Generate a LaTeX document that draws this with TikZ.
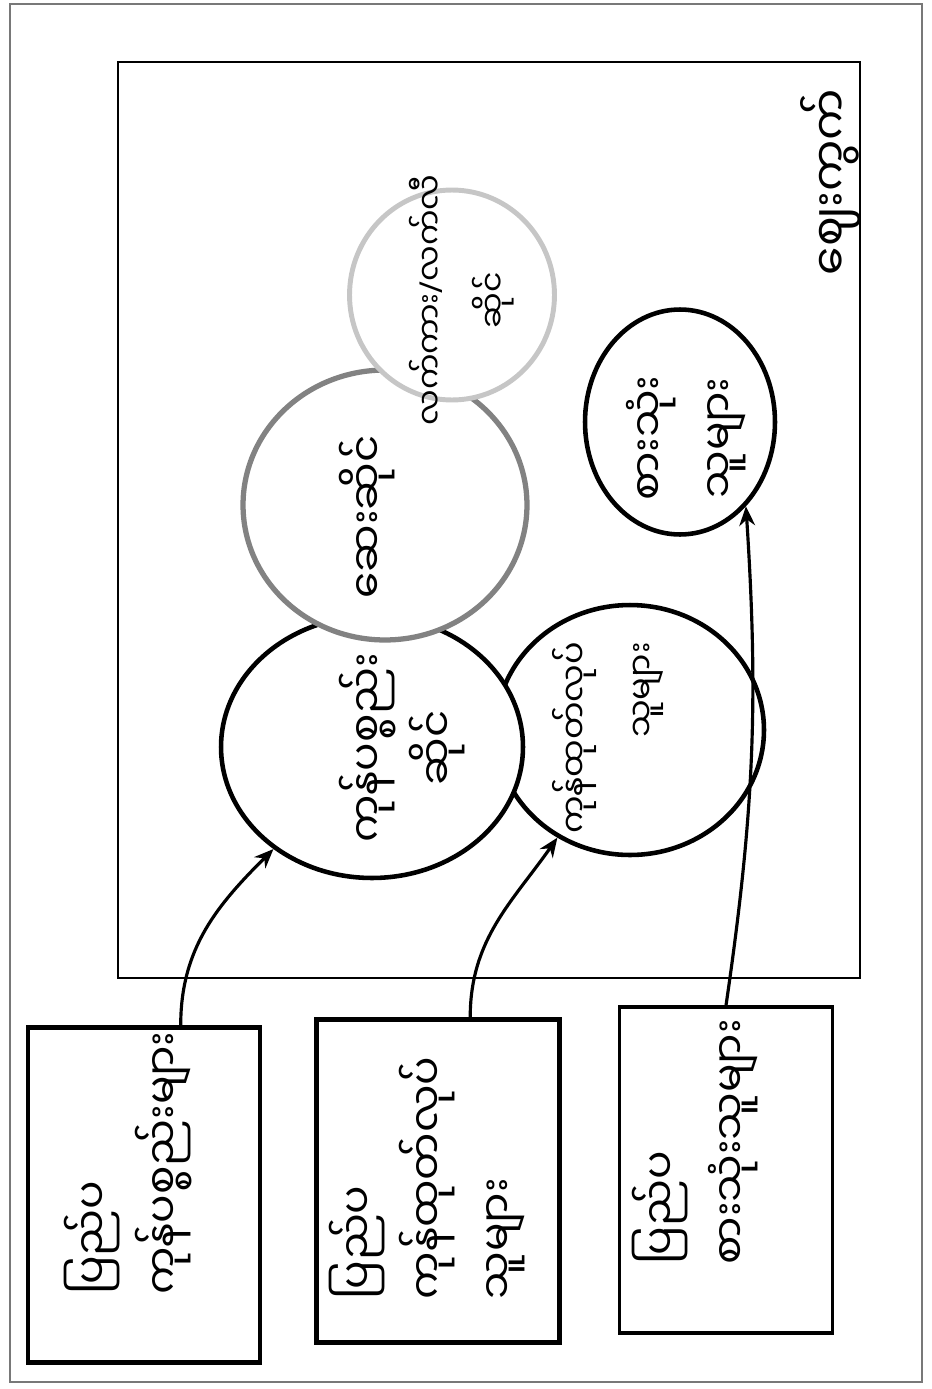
\documentclass[tikz,border=0pt]{standalone}
\usepackage{fontspec}
\newfontfamily\mmfont[Script=Myanmar]{Noto Sans Myanmar UI}
\newfontfamily\slashfont{Noto Sans}
\usetikzlibrary{arrows.meta,positioning,calc,shapes.geometric}
\definecolor{midgray}{RGB}{130,130,130}
\definecolor{palegray}{RGB}{198,198,198}
\definecolor{framegray}{RGB}{120,120,120}

\begin{document}
\begin{tikzpicture}[x=0.02cm, y=0.02cm,
    every node/.style={rotate=90, inner sep=0pt, font=\mmfont\fontsize{24}{40}\selectfont},
    shop/.style={draw, ellipse, fill=white, line width=2.6pt},
    srcbox/.style={draw, line width=2.8pt},
    txt/.style={align=left},
    ctxt/.style={align=center},
    arr/.style={-{Stealth[length=11pt,width=9pt]}, line width=1.8pt}]
  \useasboundingbox (0,0) rectangle (932,-1389);
  % page frame and market rectangle
  \draw[framegray, line width=1pt] (10,-4) rectangle (922,-1382);
  \draw[line width=1.4pt] (118,-62) rectangle (860,-978);
  \node[font=\mmfont\fontsize{26}{34}\selectfont] (mtitle) at (831,-182) {ဈေးကွက်};

  % shops inside the market
  \node[shop, minimum width=5.0cm, minimum height=5.36cm] (maker) at (630,-730) {};
  \node[shop, minimum width=5.24cm, minimum height=6.04cm] (goods) at (372,-747) {};
  \node[shop, draw=midgray, line width=3pt, minimum width=5.4cm, minimum height=5.68cm] (pharma) at (385,-505) {};
  \node[shop, draw=palegray, line width=2.8pt, minimum width=4.2cm, minimum height=4.1cm] (retail) at (452,-295) {};
  \node[shop, minimum width=4.5cm, minimum height=3.8cm] (buyer) at (680,-422) {};

  \node[ctxt, font=\mmfont\fontsize{18}{36}\selectfont] (retail-t) at (462,-300) {လက်ကား{\slashfont/}လက်လီ\\ဆိုင်};
  \node[txt] (pharma-t) at (367,-517) {ဆေးဆိုင်};
  \node[ctxt] (goods-t) at (402,-748) {ကုန်ပစ္စည်း\\ဆိုင်};
  \node[align=right, font=\mmfont\fontsize{19}{38}\selectfont] (maker-t) at (608,-738) {ကုန်ထုတ်လုပ်\\သူများ};
  \node[ctxt] (buyer-t) at (686,-438) {စားသုံး\\သူများ};

  % outside sources
  \node[srcbox, minimum width=6.7cm, minimum height=4.64cm] (srcA) at (144,-1195) {};
  \node[srcbox, minimum width=6.46cm, minimum height=4.86cm] (srcB) at (438,-1181) {};
  \node[srcbox, line width=1.8pt, minimum width=6.52cm, minimum height=4.26cm] (srcC) at (726,-1170) {};

  \node[txt] (srcA-t) at (128,-1163) {ပြည်ပ\\ကုန်ပစ္စည်းများ};
  \node[txt] (srcB-t) at (427,-1178) {ပြည်ပ\\ကုန်ထုတ်လုပ်\\သူများ};
  \node[txt] (srcC-t) at (695,-1142) {ပြည်ပ\\စားသုံးသူများ};

  \draw[arr] ($(srcA.east)!0.31!(srcA.south east)$) to[out=90, in=225] (goods.136);
  \draw[arr] ($(srcB.east)!0.26!(srcB.south east)$) to[out=90, in=235] (maker.146);
  \draw[arr] (srcC.east) to[bend right=6] (buyer.218);
\end{tikzpicture}
\end{document}
